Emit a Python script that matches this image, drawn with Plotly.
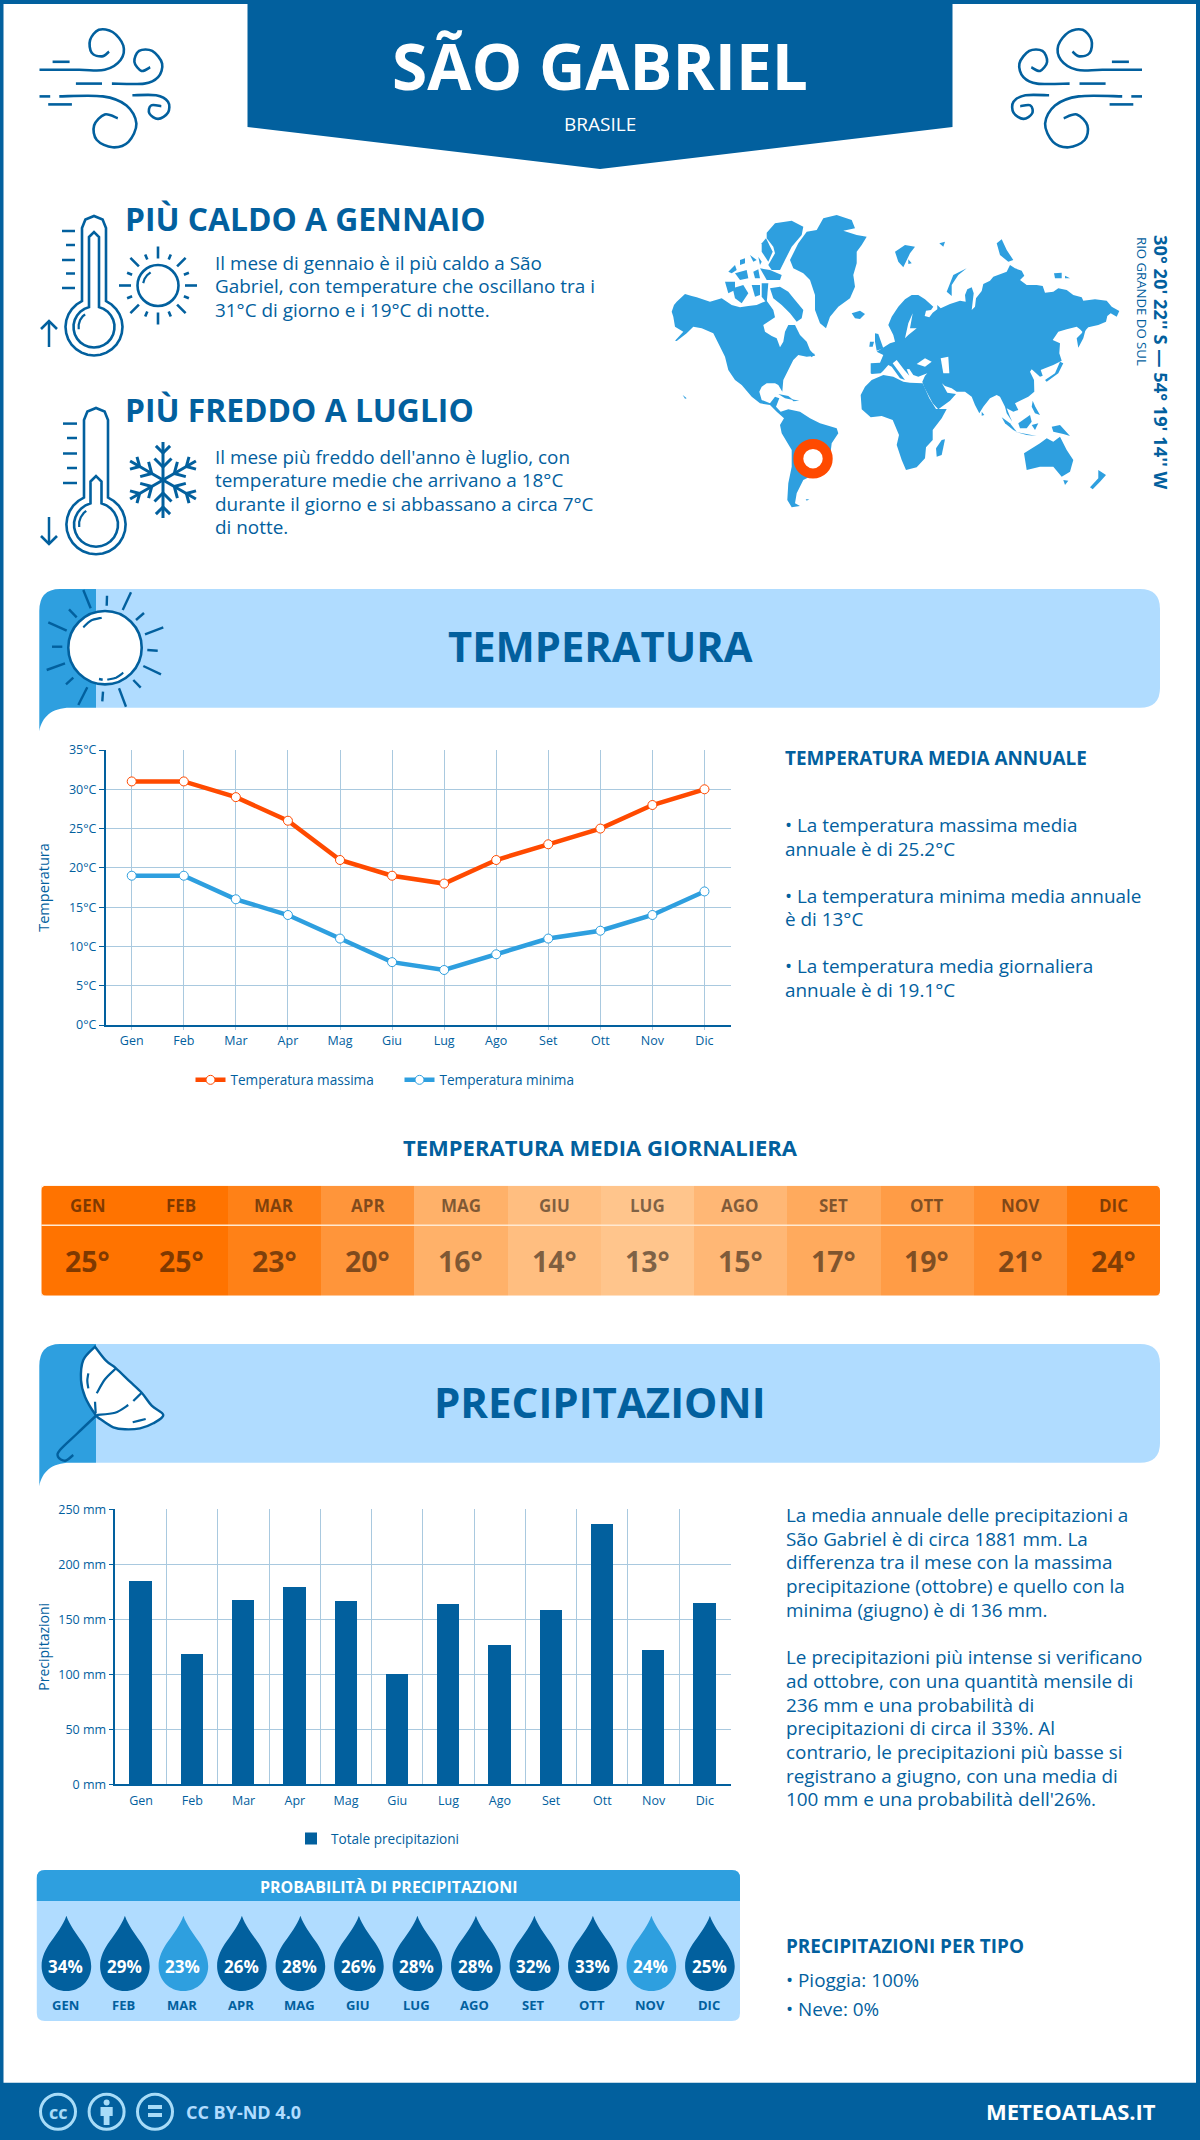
import math
import plotly.graph_objects as go

# palette
DARK = "#02609E"
MID = "#2E9FDF"
LIGHT = "#B0DCFF"
ORANGE = "#FF4A00"
GRID = "#A9C9DF"
FONT = "Open Sans"
W, H = 1200, 2140

# data
months = ["Gen", "Feb", "Mar", "Apr", "Mag", "Giu", "Lug", "Ago", "Set", "Ott", "Nov", "Dic"]
months_upper = ["GEN", "FEB", "MAR", "APR", "MAG", "GIU", "LUG", "AGO", "SET", "OTT", "NOV", "DIC"]
temp_max = [31, 31, 29, 26, 21, 19, 18, 21, 23, 25, 28, 30]
temp_min = [19, 19, 16, 14, 11, 8, 7, 9, 11, 12, 14, 17]
temp_avg = [25, 25, 23, 20, 16, 14, 13, 15, 17, 19, 21, 24]
precip = [185, 118, 167, 179, 166, 100, 164, 126, 158, 236, 122, 165]
precip_prob = [34, 29, 23, 26, 28, 26, 28, 28, 32, 33, 24, 25]
temp_ticks = [0, 5, 10, 15, 20, 25, 30, 35]
precip_ticks = [0, 50, 100, 150, 200, 250]

hot_lines = ["Il mese di gennaio è il più caldo a São",
             "Gabriel, con temperature che oscillano tra i",
             "31°C di giorno e i 19°C di notte."]
cold_lines = ["Il mese più freddo dell'anno è luglio, con",
              "temperature medie che arrivano a 18°C",
              "durante il giorno e si abbassano a circa 7°C",
              "di notte."]
temp_notes = [("• La temperatura massima media", 824.5), ("annuale è di 25.2°C", 848.5),
              ("• La temperatura minima media annuale", 895.5), ("è di 13°C", 919),
              ("• La temperatura media giornaliera", 966), ("annuale è di 19.1°C", 990)]
precip_notes = ["La media annuale delle precipitazioni a",
                "São Gabriel è di circa 1881 mm. La",
                "differenza tra il mese con la massima",
                "precipitazione (ottobre) e quello con la",
                "minima (giugno) è di 136 mm.",
                "",
                "Le precipitazioni più intense si verificano",
                "ad ottobre, con una quantità mensile di",
                "236 mm e una probabilità di",
                "precipitazioni di circa il 33%. Al",
                "contrario, le precipitazioni più basse si",
                "registrano a giugno, con una media di",
                "100 mm e una probabilità dell'26%."]

fig = go.Figure()
shapes = []
notes = []


def text(x, y, s, size, color=DARK, bold=False, anchor="left", angle=0, xref="x"):
    # annotations keep a small pad, so left aligned text starts a bit early
    if anchor == "left" and xref == "x":
        x -= 2
    notes.append(dict(x=x, y=y, xref=xref, yref="y", text=s, showarrow=False, xanchor=anchor,
                      yanchor="middle", textangle=angle,
                      font=dict(family=FONT, size=size, color=color, weight=700 if bold else 400)))


def fill(path, color, layer="below"):
    shapes.append(dict(type="path", xref="x", yref="y", path=path, fillcolor=color,
                       line=dict(width=0), layer=layer))


def stroke(path, width=2.5, color=DARK, fillcolor=None, layer="below"):
    shape = dict(type="path", xref="x", yref="y", path=path,
                 line=dict(color=color, width=width), layer=layer)
    if fillcolor:
        shape["fillcolor"] = fillcolor
    shapes.append(shape)


def poly(pts, close=True):
    return "M" + " L".join(f"{x:.1f},{y:.1f}" for x, y in pts) + (" Z" if close else "")


def smooth(pts):
    # catmull-rom through the points
    out = f"M{pts[0][0]:.1f},{pts[0][1]:.1f}"
    for i in range(len(pts) - 1):
        p0 = pts[max(i - 1, 0)]
        p1, p2 = pts[i], pts[i + 1]
        p3 = pts[min(i + 2, len(pts) - 1)]
        c1 = (p1[0] + (p2[0] - p0[0]) / 6, p1[1] + (p2[1] - p0[1]) / 6)
        c2 = (p2[0] - (p3[0] - p1[0]) / 6, p2[1] - (p3[1] - p1[1]) / 6)
        out += f" C{c1[0]:.1f},{c1[1]:.1f} {c2[0]:.1f},{c2[1]:.1f} {p2[0]:.1f},{p2[1]:.1f}"
    return out


def circle(cx, cy, r, color, width, fillcolor="rgba(0,0,0,0)", layer="below"):
    shapes.append(dict(type="circle", xref="x", yref="y", x0=cx - r, x1=cx + r, y0=cy - r, y1=cy + r,
                       line=dict(color=color, width=width), fillcolor=fillcolor, layer=layer))


def rrect(x0, y0, x1, y1, r):
    return (f"M{x0+r},{y0} L{x1-r},{y0} Q{x1},{y0} {x1},{y0+r} L{x1},{y1-r} Q{x1},{y1} {x1-r},{y1} "
            f"L{x0+r},{y1} Q{x0},{y1} {x0},{y1-r} L{x0},{y0+r} Q{x0},{y0} {x0+r},{y0} Z")


def seg(x0, y0, x1, y1, width=2.5, color=DARK):
    stroke(f"M{x0:.1f},{y0:.1f} L{x1:.1f},{y1:.1f}", width, color)


# ---- frame and header
fill(f"M0,0 L{W},0 L{W},4 L0,4 Z", DARK)
fill(f"M0,0 L3.5,0 L3.5,{H} L0,{H} Z", DARK)
fill(f"M{W-4},0 L{W},0 L{W},{H} L{W-4},{H} Z", DARK)
fill("M247.5,0 L952.5,0 L952.5,127 L600,169 L247.5,127 Z", DARK)
fill(f"M0,2082.7 L{W},2082.7 L{W},{H} L0,{H} Z", DARK)
text(600, 65, "SÃO GABRIEL", 64, "white", True, "center")
text(600, 124, "BRASILE", 19, "white", False, "center")


# ---- wind icons, traced in a zoom of the left one
def wind(flip):
    sx, sy = 1 / 2.53, 1 / 2.75

    def t(pts):
        out = []
        for x, y in pts:
            px = x * sx
            out.append((1181.5 - px if flip else px, y * sy))
        return out

    curls = [
        [(100, 192), (200, 192), (265, 192), (305, 165), (312, 125), (285, 88), (250, 82), (228, 110),
         (232, 145), (258, 155), (276, 142)],
        [(283, 230), (365, 230), (400, 212), (410, 175), (385, 140), (352, 140), (340, 170), (358, 195), (380, 185)],
        [(150, 265), (260, 265), (320, 290), (345, 340), (325, 390), (285, 405), (245, 385), (238, 345),
         (265, 315), (298, 325)],
        [(335, 262), (395, 262), (425, 280), (425, 310), (400, 327), (378, 312), (382, 290), (408, 292)],
    ]
    for c in curls:
        stroke(smooth(t(c)), 2.6)
    for a, b, y in [(133, 176, 170), (192, 258, 230), (100, 127, 265), (122, 182, 287)]:
        (x0, y0), (x1, y1) = t([(a, y), (b, y)])
        seg(x0, y0, x1, y1, 2.6)


wind(False)
wind(True)


# ---- thermometers and small weather icons
def thermometer(cx, cy, r, tube, top, inner_top, inner_tube, inner_r):
    neck = math.sqrt(r * r - tube * tube)
    a = math.atan2(neck, tube)
    outer = [(cx - tube, top + tube), (cx - tube * 0.72, top + tube * 0.3), (cx, top), (cx + tube * 0.72, top + tube * 0.3),
             (cx + tube, top + tube), (cx + tube, cy - neck)]
    for k in range(1, 24):
        ang = -a + k * (math.pi + 2 * a) / 24
        outer.append((cx + r * math.cos(ang), cy + r * math.sin(ang)))
    outer.append((cx - tube, cy - neck))
    stroke(poly(outer, True), 2.6)
    neck2 = math.sqrt(inner_r ** 2 - inner_tube ** 2)
    a2 = math.atan2(neck2, inner_tube)
    inner = [(cx - inner_tube, inner_top + inner_tube), (cx, inner_top), (cx + inner_tube, inner_top + inner_tube),
             (cx + inner_tube, cy - neck2)]
    for k in range(1, 24):
        ang = -a2 + k * (math.pi + 2 * a2) / 24
        inner.append((cx + inner_r * math.cos(ang), cy + inner_r * math.sin(ang)))
    inner.append((cx - inner_tube, cy - neck2))
    stroke(poly(inner, True), 2.6)
    arc = [(cx + (inner_r - 5) * math.cos(x), cy + (inner_r - 5) * math.sin(x)) for x in [3.0, 3.3, 3.6, 3.9, 4.1]]
    stroke(poly(arc, False), 2.2)


thermometer(94, 327, 28.5, 12, 216, 232, 5, 20.5)
for y, x0 in [(231, 62), (245, 66), (260, 62), (273.5, 66), (288, 62)]:
    seg(x0, y, 75, y)
seg(49, 321, 49, 347)
stroke("M41,329 L49,321 L57,329", 2.6)

thermometer(96, 524.7, 29.6, 12, 408, 476, 5.5, 22)
for y, x0 in [(423.6, 63), (438, 67), (453.5, 63), (468, 67), (483, 63)]:
    seg(x0, y, 77, y)
seg(49, 517, 49, 544)
stroke("M41,536 L49,544 L57,536", 2.6)

# small sun
sx0, sy0 = 158, 285.5
circle(sx0, sy0, 20.5, DARK, 2.6)
for k in range(16):
    ang = k * math.pi / 8
    r0, r1 = (27, 39) if k % 2 == 0 else (28, 33.5)
    seg(sx0 + r0 * math.cos(ang), sy0 + r0 * math.sin(ang), sx0 + r1 * math.cos(ang), sy0 + r1 * math.sin(ang), 2.6)
stroke(poly([(sx0 + 15 * math.cos(x), sy0 + 15 * math.sin(x)) for x in [3.3, 3.6, 3.9, 4.2]], False), 2.2)

# snowflake, chevrons open towards the tip of each arm
fx, fy = 163, 480
for k in range(6):
    ang = math.pi / 2 + k * math.pi / 3
    c, s = math.cos(ang), math.sin(ang)
    seg(fx, fy, fx + 38 * c, fy - 38 * s, 3)
    for d, b in [(13, 12), (27, 10)]:
        for sgn in (1, -1):
            a2 = ang + sgn * math.pi / 4
            seg(fx + d * c, fy - d * s, fx + d * c + b * math.cos(a2), fy - d * s - b * math.sin(a2), 3)

# text blocks on top
text(125, 218.5, "PIÙ CALDO A GENNAIO", 31.8, DARK, True)
text(125, 409.5, "PIÙ FREDDO A LUGLIO", 31.8, DARK, True)
for y, s in zip([262.5, 286, 310], hot_lines):
    text(215, y, s, 18.9)
for y, s in zip([456.7, 480, 503.6, 527], cold_lines):
    text(215, y, s, 18.9)

text(1162, 362, "30° 20' 22'' S — 54° 19' 14'' W", 18.3, DARK, True, "center", 90)
text(1142, 301, "RIO GRANDE DO SUL", 13.2, DARK, False, "center", 90)


# ---- world map, outlines traced from two zooms
def z8(pts):
    return poly([(660 + x / 3, 210 + y / 3) for x, y in pts])


def z9(pts):
    return poly([(850 + x / 3, 210 + y / 3) for x, y in pts])


americas = [(35, 305), (42, 285), (50, 275), (75, 252), (95, 258), (110, 262), (150, 275), (185, 265), (215, 285),
            (240, 292), (265, 288), (290, 285), (320, 272), (340, 300), (345, 322), (310, 345), (315, 365), (335, 378),
            (350, 385), (360, 412), (370, 395), (375, 365), (385, 345), (405, 345), (420, 375), (440, 395), (450, 420),
            (466, 437), (440, 440), (415, 435), (400, 450), (385, 480), (370, 510), (367, 545), (355, 525), (345, 520),
            (320, 520), (305, 530), (298, 545), (305, 570), (330, 580), (345, 560), (358, 565), (348, 590), (362, 605),
            (385, 598), (420, 605), (450, 625), (480, 640), (530, 655), (535, 670), (515, 700), (510, 740), (470, 790),
            (430, 810), (410, 850), (405, 880), (420, 888), (395, 892), (382, 870), (385, 820), (395, 770), (395, 720),
            (365, 670), (360, 645), (372, 625), (350, 605), (330, 585), (300, 580), (275, 560), (245, 525), (225, 510),
            (205, 480), (195, 440), (175, 400), (160, 370), (125, 355), (100, 350), (80, 370), (50, 393), (45, 392),
            (70, 365), (45, 350), (40, 320)]
greenland = [(390, 150), (415, 100), (440, 65), (470, 60), (490, 25), (530, 15), (575, 30), (585, 55), (550, 62),
             (590, 75), (620, 80), (605, 105), (590, 125), (590, 160), (580, 195), (585, 230), (570, 265), (535, 290),
             (510, 320), (498, 355), (480, 340), (465, 300), (465, 255), (450, 210), (430, 190), (400, 175)]
arctic_islands = [
    [(330, 235), (360, 230), (385, 245), (405, 270), (430, 300), (425, 325), (410, 335), (390, 310), (365, 285), (340, 265)],
    [(320, 68), (345, 40), (395, 32), (430, 50), (425, 75), (395, 110), (375, 150), (360, 180), (335, 180), (325, 165),
     (345, 130), (340, 110), (320, 85)],
    [(305, 100), (318, 85), (338, 125), (325, 155), (305, 125)],
    [(195, 215), (225, 215), (225, 240), (205, 250)],
    [(205, 185), (225, 165), (230, 180), (215, 190)],
    [(225, 190), (260, 180), (265, 205), (240, 210)],
    [(280, 185), (295, 178), (300, 205), (285, 205)],
    [(300, 175), (330, 180), (365, 195), (360, 210), (320, 210)],
    [(218, 235), (250, 225), (265, 250), (245, 280), (225, 265)],
    [(275, 225), (300, 225), (300, 255), (285, 260)],
    [(305, 220), (325, 220), (320, 280), (305, 260)],
    [(240, 150), (255, 145), (255, 160), (240, 165)],
    [(270, 135), (290, 150), (280, 155)],
    [(295, 140), (305, 155), (300, 165)],
]
west_islands = [[(575, 310), (600, 302), (615, 312), (600, 327), (585, 325)],
                [(355, 552), (385, 558), (400, 570), (375, 565)],
                [(395, 568), (418, 572), (400, 574)],
                [(68, 555), (80, 565), (75, 566)],
                [(437, 868), (448, 868), (440, 872)],
                [(440, 425), (465, 432), (455, 442)]]
eurasia = [(62, 490), (62, 460), (90, 458), (100, 435), (80, 425), (120, 400), (135, 395), (130, 375), (115, 345),
           (125, 320), (145, 290), (165, 268), (185, 255), (205, 255), (225, 268), (250, 290), (243, 300), (228, 302),
           (224, 318), (238, 322), (248, 308), (262, 298), (262, 285), (272, 295), (300, 282), (330, 272), (347, 275),
           (345, 255), (352, 238), (365, 232), (371, 250), (365, 300), (375, 290), (378, 265), (395, 243), (400, 222),
           (420, 212), (430, 200), (470, 185), (480, 165), (495, 175), (515, 182), (523, 197), (510, 210), (530, 225),
           (560, 225), (578, 228), (585, 248), (610, 245), (625, 235), (650, 240), (670, 255), (695, 262), (700, 272),
           (735, 268), (770, 272), (785, 290), (808, 303), (800, 320), (782, 310), (772, 318), (768, 335), (745, 345),
           (715, 352), (700, 368), (690, 358), (680, 350), (650, 358), (625, 365), (608, 390), (630, 400), (628, 430),
           (635, 452), (610, 465), (585, 475), (572, 480), (578, 497), (570, 500), (545, 478), (540, 485), (552, 510),
           (553, 545), (535, 560), (510, 572), (495, 580), (505, 600), (490, 605), (470, 595), (480, 620), (487, 635),
           (470, 610), (465, 590), (450, 560), (440, 555), (420, 565), (400, 590), (388, 610), (375, 585), (365, 560),
           (345, 545), (320, 545), (305, 535), (285, 528), (276, 520), (292, 548), (318, 552), (300, 572), (265, 598),
           (248, 580), (222, 530), (217, 515), (225, 497), (232, 490), (205, 500), (190, 495), (178, 477), (170, 478),
           (178, 497), (163, 480), (140, 450), (128, 460), (165, 510), (150, 505), (125, 470), (115, 465), (100, 482),
           (92, 490), (65, 492)]
seas = [[(200, 462), (225, 445), (245, 455), (225, 470)],
        [(272, 445), (295, 440), (298, 490), (280, 490)],
        [(165, 385), (175, 340), (188, 310), (180, 355), (200, 355), (175, 375)]]
africa = [(32, 555), (45, 530), (65, 510), (100, 495), (130, 500), (160, 515), (180, 518), (218, 520), (238, 565),
          (258, 597), (290, 597), (275, 625), (248, 660), (248, 690), (228, 712), (225, 745), (200, 772), (168, 780),
          (155, 750), (140, 705), (147, 675), (128, 630), (95, 618), (62, 622), (35, 598)]
australia = [(522, 730), (570, 700), (590, 685), (610, 695), (630, 680), (650, 720), (670, 750), (660, 785), (635, 800),
             (610, 770), (570, 770), (530, 780)]
east_islands = [
    [(75, 370), (85, 372), (100, 415), (80, 422), (75, 395)],
    [(60, 395), (72, 395), (68, 410), (58, 410)],
    [(135, 125), (165, 105), (195, 110), (180, 130), (160, 172), (145, 155)],
    [(175, 148), (185, 160), (175, 162)],
    [(268, 100), (285, 95), (280, 110)],
    [(290, 245), (310, 195), (350, 175), (325, 195), (305, 225), (305, 258)],
    [(440, 100), (455, 88), (470, 120), (490, 150), (475, 155), (450, 135)],
    [(612, 190), (635, 188), (635, 205), (615, 205)],
    [(645, 197), (660, 205), (645, 205)],
    [(695, 370), (712, 340), (700, 385), (685, 413), (680, 385)],
    [(585, 510), (615, 490), (630, 455), (640, 460), (625, 490), (590, 515)],
    [(548, 572), (556, 590), (570, 615), (555, 610), (545, 590)],
    [(455, 622), (480, 640), (500, 665), (490, 660), (465, 640)],
    [(495, 665), (560, 678), (530, 675)],
    [(505, 640), (540, 615), (545, 635), (530, 655), (510, 655)],
    [(545, 645), (565, 640), (555, 660)],
    [(605, 650), (630, 645), (660, 678), (640, 672), (610, 665)],
    [(395, 605), (403, 615), (395, 617)],
    [(640, 810), (655, 812), (645, 825)],
    [(745, 780), (768, 795), (750, 815), (728, 838), (720, 832), (745, 805)],
    [(275, 690), (285, 688), (275, 735), (260, 740), (258, 715)],
]
for part in [americas, greenland] + arctic_islands + west_islands:
    fill(z8(part), MID)
for part in [eurasia, africa, australia] + east_islands:
    fill(z9(part), MID)
for part in seas:
    fill(z9(part), "white")
circle(813, 458.7, 14.7, ORANGE, 10, "white")


# ---- section banners
def banner(y0, y1):
    fill(f"M96,{y0} L1140,{y0} Q1160,{y0} 1160,{y0+20} L1160,{y1-20} Q1160,{y1} 1140,{y1} L96,{y1} Z", LIGHT)
    fill(f"M39.3,{y1+23.5} C42,{y1+9} 52,{y1} 70,{y1} L96,{y1} L96,{y0} L60,{y0} Q39.3,{y0} 39.3,{y0+22} Z", MID)


banner(589, 707.7)
banner(1344, 1462.7)
text(600, 645.5, "TEMPERATURA", 41.7, DARK, True, "center")
text(600, 1401.5, "PRECIPITAZIONI", 42, DARK, True, "center")


def big_z10(x, y):
    return 30 + x / 3, 585 + y / 3


circle(105, 647.7, 36.7, DARK, 2.6, "white")
rays = [(160, 15, 182, 70), (303, 22, 278, 75), (400, 127, 345, 148), (393, 268, 340, 243), (288, 365, 267, 310),
        (172, 307, 145, 360), (105, 235, 50, 255), (55, 112, 110, 137), (231, 32, 230, 62), (342, 84, 318, 105),
        (383, 197, 352, 195), (332, 308, 310, 285), (219, 320, 217, 349), (130, 278, 108, 298), (97, 185, 66, 185),
        (117, 73, 140, 97), (207, 282, 218, 284)]
for a, b, c, d in rays:
    p, q = big_z10(a, b), big_z10(c, d)
    seg(p[0], p[1], q[0], q[1], 2.4)
stroke(smooth([big_z10(*p) for p in [(160, 127), (182, 107), (215, 98)]]), 2.2)
stroke(smooth([big_z10(*p) for p in [(232, 284), (258, 278), (280, 263)]]), 2.2)


def big_z11(pts):
    return [(30 + x / 3, 1340 + y / 3) for x, y in pts]


canopy = smooth(big_z11([(195, 20), (228, 62), (258, 85), (300, 125), (335, 158), (365, 197), (400, 225), (370, 250),
                         (330, 265), (285, 268), (250, 262), (215, 240), (197, 225), (165, 170), (153, 120), (160, 60),
                         (195, 20)])) + " Z"
stroke(canopy, 2.4, DARK, "white")
for pts in [[(258, 85), (225, 118), (200, 160)], [(335, 158), (310, 183)], [(295, 195), (255, 218), (200, 225)],
            [(197, 220), (195, 185)], [(175, 100), (172, 122), (175, 145)], [(308, 247), (347, 237)]]:
    stroke(smooth(big_z11(pts)), 2.2)
stroke(smooth(big_z11([(197, 228), (140, 282), (90, 330), (84, 350), (105, 362), (130, 345)])), 2.4)

# ---- temperatura
fig.add_trace(go.Scatter(x=months, y=temp_max, name="Temperatura massima", xaxis="x2", yaxis="y2", mode="lines+markers",
                         line=dict(color=ORANGE, width=4.5),
                         marker=dict(size=9, color="white", line=dict(color=ORANGE, width=1)), legend="legend"))
fig.add_trace(go.Scatter(x=months, y=temp_min, name="Temperatura minima", xaxis="x2", yaxis="y2", mode="lines+markers",
                         line=dict(color=MID, width=4.5),
                         marker=dict(size=9, color="white", line=dict(color=MID, width=1)), legend="legend"))

text(785, 757.5, "TEMPERATURA MEDIA ANNUALE", 18.9, DARK, True)
for s, y in temp_notes:
    text(785, y, s, 18.9)

# ---- temperatura media giornaliera
text(600, 1147, "TEMPERATURA MEDIA GIORNALIERA", 22, DARK, True, "center")
fig.add_trace(go.Heatmap(x=months, y=["t"], z=[temp_avg], xaxis="x3", yaxis="y3", showscale=False, hoverinfo="skip",
                         zmin=13, zmax=25, colorscale=[[0, "#FFC58C"], [1, "#FF7300"]]))
shapes.append(dict(type="line", xref="x", yref="y", x0=41.3, x1=1160, y0=1225.3, y1=1225.3,
                   line=dict(color="#FFE9D2", width=1.6), layer="above"))
for x, y, sx, sy in [(41.3, 1185.7, 1, 1), (1160, 1185.7, -1, 1), (41.3, 1295.7, 1, -1), (1160, 1295.7, -1, -1)]:
    fill(f"M{x},{y} L{x+5*sx},{y} Q{x},{y} {x},{y+5*sy} Z", "white", "above")
for m, up, t in zip(months, months_upper, temp_avg):
    text(m, 1205.7, up, 17, "rgba(0,0,0,0.5)", True, "center", xref="x3")
    text(m, 1261, f"{t}°", 28.5, "rgba(0,0,0,0.5)", True, "center", xref="x3")

# ---- precipitazioni
fig.add_trace(go.Bar(x=months, y=precip, name="Totale precipitazioni", xaxis="x4", yaxis="y4", width=0.435,
                     marker=dict(color=DARK, line=dict(width=0)), legend="legend2"))
for i, s in enumerate(precip_notes):
    if s:
        text(785.5, 1515 + i * 23.7, s, 18.9)

text(785.5, 1946, "PRECIPITAZIONI PER TIPO", 18.9, DARK, True)
text(785.5, 1980, "• Pioggia: 100%", 18.9)
text(785.5, 2008.6, "• Neve: 0%", 18.9)

# ---- probabilita
fill(rrect(36.8, 1870, 740, 2021, 8), LIGHT)
fill("M36.8,1901 L36.8,1878 Q36.8,1870 44.8,1870 L732,1870 Q740,1870 740,1878 L740,1901 Z", MID)
text(389, 1887, "PROBABILITÀ DI PRECIPITAZIONI", 16, "white", True, "center")
for i, (p, up) in enumerate(zip(precip_prob, months_upper)):
    cx = 66.4 + i * 58.5
    top, bottom, r = 1915.7, 1991, 24.8
    cy = bottom - r
    drop = (f"M{cx},{top} C{cx+7},{top+20} {cx+r},{cy-20} {cx+r},{cy} C{cx+r},{cy+14} {cx+14},{bottom} {cx},{bottom} "
            f"C{cx-14},{bottom} {cx-r},{cy+14} {cx-r},{cy} C{cx-r},{cy-20} {cx-7},{top+20} {cx},{top} Z")
    fill(drop, MID if p < 25 else DARK)
    text(cx - 0.5, 1966.7, f"{p}%", 17, "white", True, "center")
    text(cx - 1, 2004.7, up, 13, DARK, True, "center")

# ---- footer
for cx in [58, 106.6, 155]:
    circle(cx, 2111.7, 17.5, "#A8DCF8", 3)
text(58, 2111.7, "cc", 18, "#A8DCF8", True, "center")
circle(106.6, 2102.5, 3, "#A8DCF8", 0, "#A8DCF8")
fill("M100.5,2107 L112.7,2107 L112.7,2116 L109.5,2116 L109.5,2125 L103.7,2125 L103.7,2116 L100.5,2116 Z", "#A8DCF8")
fill("M148,2105 L162,2105 L162,2109 L148,2109 Z M148,2113 L162,2113 L162,2117 L148,2117 Z", "#A8DCF8")
text(185.5, 2111.5, "CC BY-ND 4.0", 18, "#B0DCFF", True)
text(1158, 2111, "METEOATLAS.IT", 22, "white", True, "right")


def xdom(a, b):
    return [a / W, b / W]


def ydom(top, bottom):
    return [1 - bottom / H, 1 - top / H]


tick_font = dict(family=FONT, size=12.5, color=DARK)
fig.update_layout(
    width=W,
    height=H,
    margin=dict(l=0, r=0, t=0, b=0, autoexpand=False),
    paper_bgcolor="white",
    plot_bgcolor="rgba(0,0,0,0)",
    hovermode=False,
    bargap=0,
    shapes=shapes,
    annotations=notes,
    # full page axes in pixels, for the decoration
    xaxis=dict(domain=[0, 1], range=[0, W], visible=False, fixedrange=True, anchor="y"),
    yaxis=dict(domain=[0, 1], range=[H, 0], visible=False, fixedrange=True, anchor="x"),
    xaxis2=dict(domain=xdom(105.7, 730.5), anchor="y2", type="category", categoryarray=months, range=[-0.5, 11.5],
                showgrid=True, gridcolor=GRID, gridwidth=1, ticks="outside", ticklen=3, tickcolor=GRID,
                showline=True, linecolor=DARK, linewidth=1.5, tickfont=tick_font, tickangle=0),
    yaxis2=dict(domain=ydom(750, 1025), anchor="x2", range=[0, 35], tickvals=temp_ticks,
                ticktext=[f"{v}°C" for v in temp_ticks],
                showgrid=True, gridcolor=GRID, gridwidth=1, ticks="outside", ticklen=5, tickcolor=DARK,
                showline=True, linecolor=DARK, linewidth=1.5, tickfont=tick_font, zeroline=False,
                title=dict(text="Temperatura", font=dict(family=FONT, size=14.5, color=DARK), standoff=16)),
    xaxis3=dict(domain=xdom(41.3, 1160), anchor="y3", type="category", categoryarray=months, range=[-0.5, 11.5],
                visible=False),
    yaxis3=dict(domain=ydom(1185.7, 1295.7), anchor="x3", visible=False),
    xaxis4=dict(domain=xdom(115.4, 730.5), anchor="y4", type="category", categoryarray=months, range=[-0.5, 11.5],
                showgrid=True, gridcolor=GRID, gridwidth=1, tickson="boundaries", ticks="", showline=True,
                linecolor=DARK, linewidth=1.5, tickfont=tick_font, tickangle=0, ticklabelstandoff=4),
    yaxis4=dict(domain=ydom(1509.3, 1784.3), anchor="x4", range=[0, 250], tickvals=precip_ticks,
                ticktext=[f"{v} mm" for v in precip_ticks],
                showgrid=True, gridcolor=GRID, gridwidth=1, ticks="outside", ticklen=5, tickcolor=DARK,
                showline=True, linecolor=DARK, linewidth=1.5, tickfont=tick_font, zeroline=False,
                title=dict(text="Precipitazioni", font=dict(family=FONT, size=14, color=DARK), standoff=5)),
    legend=dict(orientation="h", x=399.5 / W, xanchor="center", y=1 - 1080 / H, yanchor="middle",
                entrywidth=164, entrywidthmode="pixels",
                font=dict(family=FONT, size=13.6, color=DARK), bgcolor="rgba(0,0,0,0)"),
    legend2=dict(orientation="h", x=378 / W, xanchor="center", y=1 - 1838.7 / H, yanchor="middle",
                 font=dict(family=FONT, size=13.6, color=DARK), bgcolor="rgba(0,0,0,0)"),
    showlegend=True,
)

fig.write_html("out.html", config=dict(displayModeBar=False), post_script="document.body.style.margin='0';")
